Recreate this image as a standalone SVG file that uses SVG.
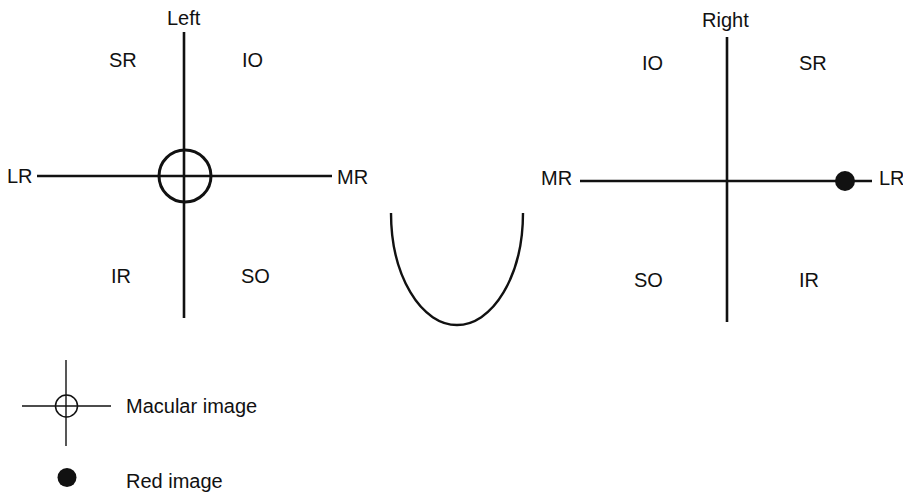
<svg xmlns="http://www.w3.org/2000/svg" width="903" height="494" viewBox="0 0 903 494">
<style>
text { font-family: "Liberation Sans", Arial, sans-serif; font-size: 20px; fill: #111; }
.axis { stroke: #111; stroke-width: 2.6; fill: none; }
.thin { stroke: #111; stroke-width: 1.4; fill: none; }
</style>
<rect width="903" height="494" fill="#fff"/>
<g id="connectors">
  <line class="axis" x1="184" y1="32" x2="184" y2="318"/>
  <line class="axis" x1="37" y1="176" x2="332" y2="176"/>
  <line class="axis" x1="727" y1="37" x2="727" y2="322"/>
  <line class="axis" x1="580" y1="181" x2="872" y2="181"/>
  <line class="thin" x1="66" y1="360" x2="66" y2="446"/>
  <line class="thin" x1="22" y1="406" x2="111" y2="406"/>
</g>
<g id="left-chart">
  <text x="167" y="25">Left</text>
  <text x="109" y="67">SR</text>
  <text x="242" y="67">IO</text>
  <text x="7" y="183">LR</text>
  <text x="337" y="184">MR</text>
  <text x="111" y="283">IR</text>
  <text x="241" y="283">SO</text>
</g>
<g id="macular-image-left">
  <circle cx="185" cy="176" r="26" stroke="#111" stroke-width="3" fill="none"/>
</g>
<g id="cup">
  <path d="M391,213 A66,112 0 0 0 523,213" stroke="#111" stroke-width="2.4" fill="none"/>
</g>
<g id="right-chart">
  <text x="702" y="27">Right</text>
  <text x="642" y="70">IO</text>
  <text x="799" y="70">SR</text>
  <text x="541" y="185">MR</text>
  <text x="879" y="185">LR</text>
  <text x="634" y="287">SO</text>
  <text x="799" y="287">IR</text>
</g>
<g id="red-image-right">
  <circle cx="845" cy="181" r="10" fill="#111"/>
</g>
<g id="legend-macular">
  <circle cx="66.5" cy="406" r="11" stroke="#111" stroke-width="1.5" fill="none"/>
  <text x="126" y="413">Macular image</text>
</g>
<g id="legend-red">
  <circle cx="67" cy="477.5" r="9.5" fill="#111"/>
  <text x="126" y="488">Red image</text>
</g>
</svg>
